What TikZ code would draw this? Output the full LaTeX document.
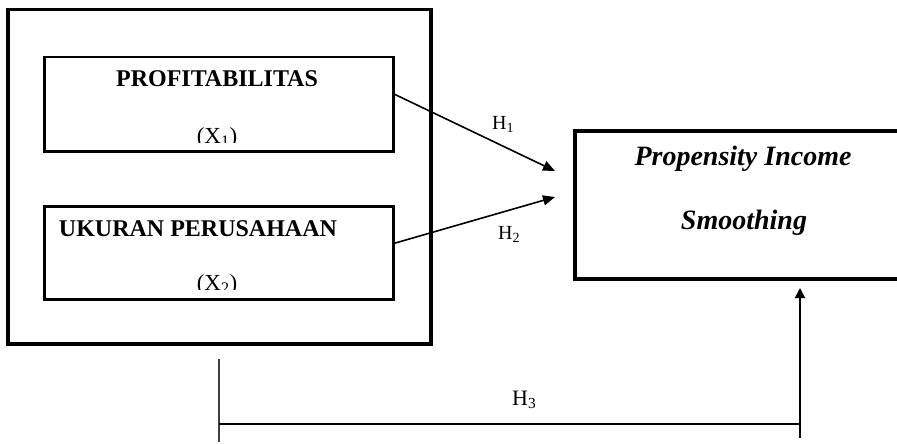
\documentclass[tikz,border=0pt]{standalone}
\usepackage{fontspec}
\setmainfont{Liberation Serif}
\usetikzlibrary{arrows.meta}
\begin{document}
\begin{tikzpicture}[x=1pt,y=-1pt,
  box/.style={draw, line width=2.5pt, anchor=north west, inner sep=0pt},
  bigbox/.style={draw, line width=3.5pt, anchor=north west, inner sep=0pt},
  dvbox/.style={draw, line width=4pt, anchor=north west, inner sep=0pt},
  title/.style={font=\fontsize{24}{28}\selectfont\bfseries, anchor=base, inner sep=0pt},
  subtxt/.style={font=\fontsize{23}{27}\selectfont, anchor=base, inner sep=0pt},
  dvtext/.style={font=\fontsize{28}{32}\selectfont\bfseries\itshape, anchor=base, inner sep=0pt},
  hlabel/.style={font=\fontsize{20}{24}\selectfont, anchor=base west, inner sep=0pt},
  arr/.style={line width=1.6pt, -{Triangle[length=12pt,width=10pt]}},
  thinline/.style={line width=1.2pt}
]
\path[use as bounding box] (0,0) rectangle (897,444);
\clip (0,0) rectangle (897,444);
% outer frame
\node[bigbox, minimum width=423pt, minimum height=334pt] (outer) at (6,8) {};
% inner boxes
\node[box, minimum width=349pt, minimum height=94pt] (x1box) at (43,56) {};
\node[box, minimum width=349pt, minimum height=93pt] (x2box) at (43,205) {};
\node[title] (x1t) at (217,87) {PROFITABILITAS};
\node[title] (x2t) at (198,236) {UKURAN PERUSAHAAN};
\begin{scope}
\clip (43,56) rectangle (392,142.5);
\node[subtxt] (x1s) at (217,143) {(X\textsubscript{1})};
\end{scope}
\begin{scope}
\clip (43,205) rectangle (392,289.5);
\node[subtxt] (x2s) at (217,290) {(X\textsubscript{2})};
\end{scope}
% dependent variable box
\node[dvbox, minimum width=340pt, minimum height=148pt] (dv) at (573,129) {};
\node[dvtext] (dv1) at (743,165) {Propensity Income};
\node[dvtext] (dv2) at (744,229) {Smoothing};
% arrows H1, H2
\coordinate (t1) at (555,171);
\coordinate (t2) at (555,197);
\draw[arr] ([yshift=10pt]x1box.east) -- (t1);
\draw[arr] ([yshift=9.5pt]x2box.east) -- (t2);
\node[hlabel] (h1) at (492,129) {H\textsubscript{1}};
\node[hlabel] (h2) at (498,239) {H\textsubscript{2}};
\node[hlabel, font=\fontsize{22}{26}\selectfont] (h3) at (512,405) {H\textsubscript{3}};
% H3 connector
\coordinate (l1) at (219,359);
\coordinate (l2) at (219,442);
\coordinate (c1) at (219,424);
\coordinate (c2) at (800,424);
\coordinate (a1) at (800,438);
\coordinate (a2) at (800,288);
\draw[thinline, draw=black!75] (l1) -- (l2);
\draw[thinline] (c1) -- (c2);
\draw[line width=1.8pt, -{Triangle[length=10pt,width=10pt]}] (a1) -- (a2);
\end{tikzpicture}
\end{document}
